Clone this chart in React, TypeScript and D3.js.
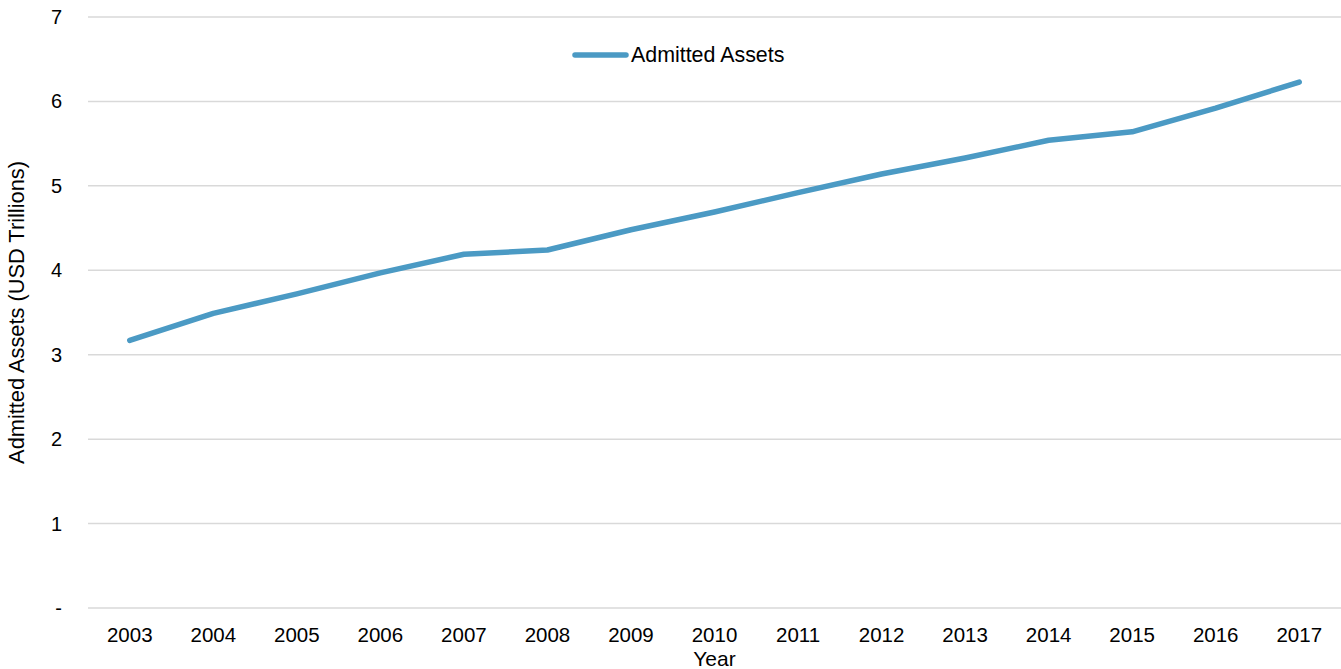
import React from "react";
import * as d3 from "d3";

const years = ["2003","2004","2005","2006","2007","2008","2009","2010","2011","2012","2013","2014","2015","2016","2017"];
const assets = [3.17, 3.49, 3.72, 3.97, 4.19, 4.24, 4.48, 4.69, 4.92, 5.14, 5.33, 5.54, 5.64, 5.92, 6.23];
const yTicks = [0, 1, 2, 3, 4, 5, 6, 7];
const seriesName = "Admitted Assets";
const yTitle = "Admitted Assets (USD Trillions)";
const xTitle = "Year";

const W = 1341, H = 669;
const left = 88, right = 1341, top = 17, bottom = 608;
const font = "Liberation Sans, Arial, sans-serif";
const color = "#4b9ac4";

export default function App() {
  const x = d3.scalePoint<string>().domain(years).range([left, right]).padding(0.5);
  const y = d3.scaleLinear().domain([0, 7]).range([bottom, top]);
  const line = d3.line<number>().x((_, i) => x(years[i])!).y((d) => y(d));
  return (
    <svg width={W} height={H} style={{ position: "absolute", left: 0, top: 0 }} fontFamily={font}>
      {yTicks.map((t) => (
        <g key={t}>
          <line x1={left} x2={right} y1={y(t)} y2={y(t)} stroke="#d9d9d9" strokeWidth={1.5} />
          <text x={62} y={y(t)} dy="0.35em" textAnchor="end" fontSize={20} fill="#000">
            {t === 0 ? "-" : t}
          </text>
        </g>
      ))}
      {years.map((yr) => (
        <text key={yr} x={x(yr)} y={642} textAnchor="middle" fontSize={20.5} fill="#000">{yr}</text>
      ))}
      <text x={(left + right) / 2} y={666} textAnchor="middle" fontSize={21} fill="#000">{xTitle}</text>
      <text transform={`translate(24, ${(top + bottom) / 2}) rotate(-90)`} textAnchor="middle" fontSize={21.8} fill="#000">{yTitle}</text>
      <path d={line(assets)!} fill="none" stroke={color} strokeWidth={5.5} strokeLinecap="round" strokeLinejoin="round" />
      <line x1={575} x2={626} y1={55} y2={55} stroke={color} strokeWidth={5.5} strokeLinecap="round" />
      <text x={631} y={55} dy="0.35em" fontSize={21.4} fill="#000">{seriesName}</text>
    </svg>
  );
}
